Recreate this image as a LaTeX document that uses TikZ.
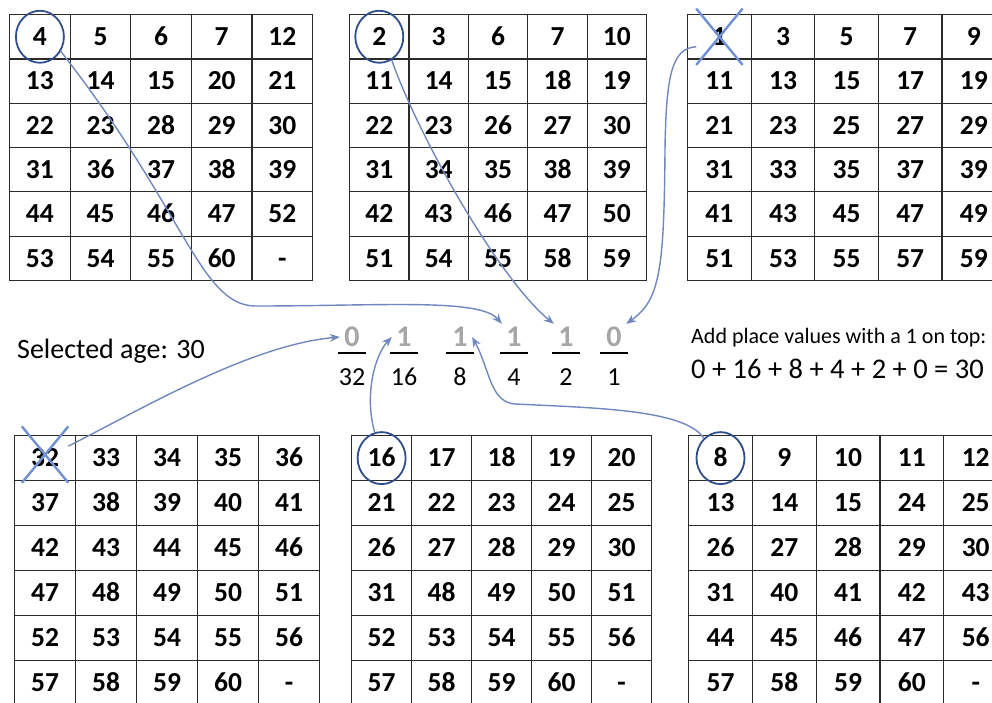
\documentclass[tikz,border=0pt]{standalone}
\usepackage{fontspec}
\setmainfont{Carlito}
\usetikzlibrary{matrix,arrows.meta,shapes.geometric,shapes.misc}
\definecolor{ringblue}{HTML}{2F4E8C}
\definecolor{crossblue}{HTML}{6F90D2}
\definecolor{linkblue}{HTML}{7088BF}
\definecolor{bitgray}{HTML}{A6A6A6}
\definecolor{tabline}{HTML}{2B2B2B}

\begin{document}
\begin{tikzpicture}[
    x=1pt, y=-1pt,
    numtab/.style 2 args={matrix of nodes, anchor=north west, inner sep=0pt, outer sep=0pt,
        column sep=-1.2pt, row sep=-1.2pt,
        nodes={draw=tabline, line width=1.2pt, minimum width=#1, minimum height=#2,
            inner sep=0pt, anchor=center, text height=17.5pt, text depth=0pt,
            font=\bfseries\fontsize{27.5}{27.5}\selectfont}},
    ring/.style={draw=ringblue, line width=1.8pt, ellipse, minimum width=48pt, minimum height=52pt, inner sep=0pt},
    strike/.style={draw=crossblue, line width=2.4pt, cross out, minimum width=44pt, minimum height=54pt, inner sep=0pt},
    bit/.style={font=\bfseries\fontsize{30}{30}\selectfont, text=bitgray, inner sep=0pt, minimum width=24pt, minimum height=26pt},
    place/.style={font=\fontsize{26}{26}\selectfont, inner sep=0pt},
    fracbar/.style={line width=1.5pt},
    note/.style={font=\fontsize{22}{22}\selectfont, inner sep=0pt, anchor=west},
    link/.style={draw=linkblue, line width=1.4pt, -{Stealth[length=10pt, width=8pt]}}
]
\useasboundingbox (0,0) rectangle (992,702);
\fill[white] (0,0) rectangle (992,702);
\clip (0,0) rectangle (992,702);

% the six cards
\matrix[numtab={60.6pt}{44.3pt}] (t1) at (9,14) {
4 & 5 & 6 & 7 & 12\\
13 & 14 & 15 & 20 & 21\\
22 & 23 & 28 & 29 & 30\\
31 & 36 & 37 & 38 & 39\\
44 & 45 & 46 & 47 & 52\\
53 & 54 & 55 & 60 & -\\
};
\matrix[numtab={59.4pt}{44.3pt}] (t2) at (349,14) {
2 & 3 & 6 & 7 & 10\\
11 & 14 & 15 & 18 & 19\\
22 & 23 & 26 & 27 & 30\\
31 & 34 & 35 & 38 & 39\\
42 & 43 & 46 & 47 & 50\\
51 & 54 & 55 & 58 & 59\\
};
\matrix[numtab={63.6pt}{44.3pt}] (t3) at (687,14) {
1 & 3 & 5 & 7 & 9\\
11 & 13 & 15 & 17 & 19\\
21 & 23 & 25 & 27 & 29\\
31 & 33 & 35 & 37 & 39\\
41 & 43 & 45 & 47 & 49\\
51 & 53 & 55 & 57 & 59\\
};
\matrix[numtab={61pt}{45pt}] (t4) at (14,435) {
32 & 33 & 34 & 35 & 36\\
37 & 38 & 39 & 40 & 41\\
42 & 43 & 44 & 45 & 46\\
47 & 48 & 49 & 50 & 51\\
52 & 53 & 54 & 55 & 56\\
57 & 58 & 59 & 60 & -\\
};
\matrix[numtab={60pt}{45pt}] (t5) at (351,435) {
16 & 17 & 18 & 19 & 20\\
21 & 22 & 23 & 24 & 25\\
26 & 27 & 28 & 29 & 30\\
31 & 48 & 49 & 50 & 51\\
52 & 53 & 54 & 55 & 56\\
57 & 58 & 59 & 60 & -\\
};
\matrix[numtab={63.8pt}{45pt}] (t6) at (688,435) {
8 & 9 & 10 & 11 & 12\\
13 & 14 & 15 & 24 & 25\\
26 & 27 & 28 & 29 & 30\\
31 & 40 & 41 & 42 & 43\\
44 & 45 & 46 & 47 & 56\\
57 & 58 & 59 & 60 & -\\
};

% marks on the first cells
\node[ring] (c4) at (t1-1-1) {};
\node[ring] (c2) at (t2-1-1) {};
\node[ring] (c16) at (t5-1-1) {};
\node[ring] (c8) at (t6-1-1) {};
\node[strike] (x1) at (t3-1-1) {};
\node[strike, yshift=3.5pt] (x32) at (t4-1-1) {};

% place values
\foreach \x/\b/\d in {352/0/32, 404/1/16, 460/1/8, 514/1/4, 566/1/2, 614/0/1} {
  \node[bit] (num\d) at (\x,337) {\b};
  \node[place] (den\d) at (\x,377) {\d};
  \draw[fracbar] (\x-14,353) -- (\x+14,353);
}

\node[note, font=\fontsize{28}{28}\selectfont] (age) at (17,351) {Selected age: 30};
\node[note] (rule) at (691,338) {Add place values with a 1 on top:};
\node[note, font=\fontsize{28.5}{28.5}\selectfont] (total) at (691,369) {0 + 16 + 8 + 4 + 2 + 0 = 30};

% arrows from the cards to the bits
\draw[link] (c4.-35) .. controls (185,210) and (200,305) .. (255,306)
    .. controls (380,306) and (480,298) .. (num4.north west);
\draw[link] (c2.-62) .. controls (420,140) and (500,280) .. (num2.north west);
\draw[link] ([yshift=-10pt]x1.west) .. controls (672,48) and (666,75) .. (665,150)
    .. controls (664,270) and (660,300) .. (num1.north east);
\draw[link] (x32.20) .. controls (140,410) and (250,345) .. (num32.west);
\draw[link] (c16.105) .. controls (364,395) and (375,355) .. (num16.west);
\draw[link] (c8.130) .. controls (685,410) and (600,408) .. (515,404)
    .. controls (490,402) and (490,370) .. (num8.east);
\end{tikzpicture}
\end{document}
